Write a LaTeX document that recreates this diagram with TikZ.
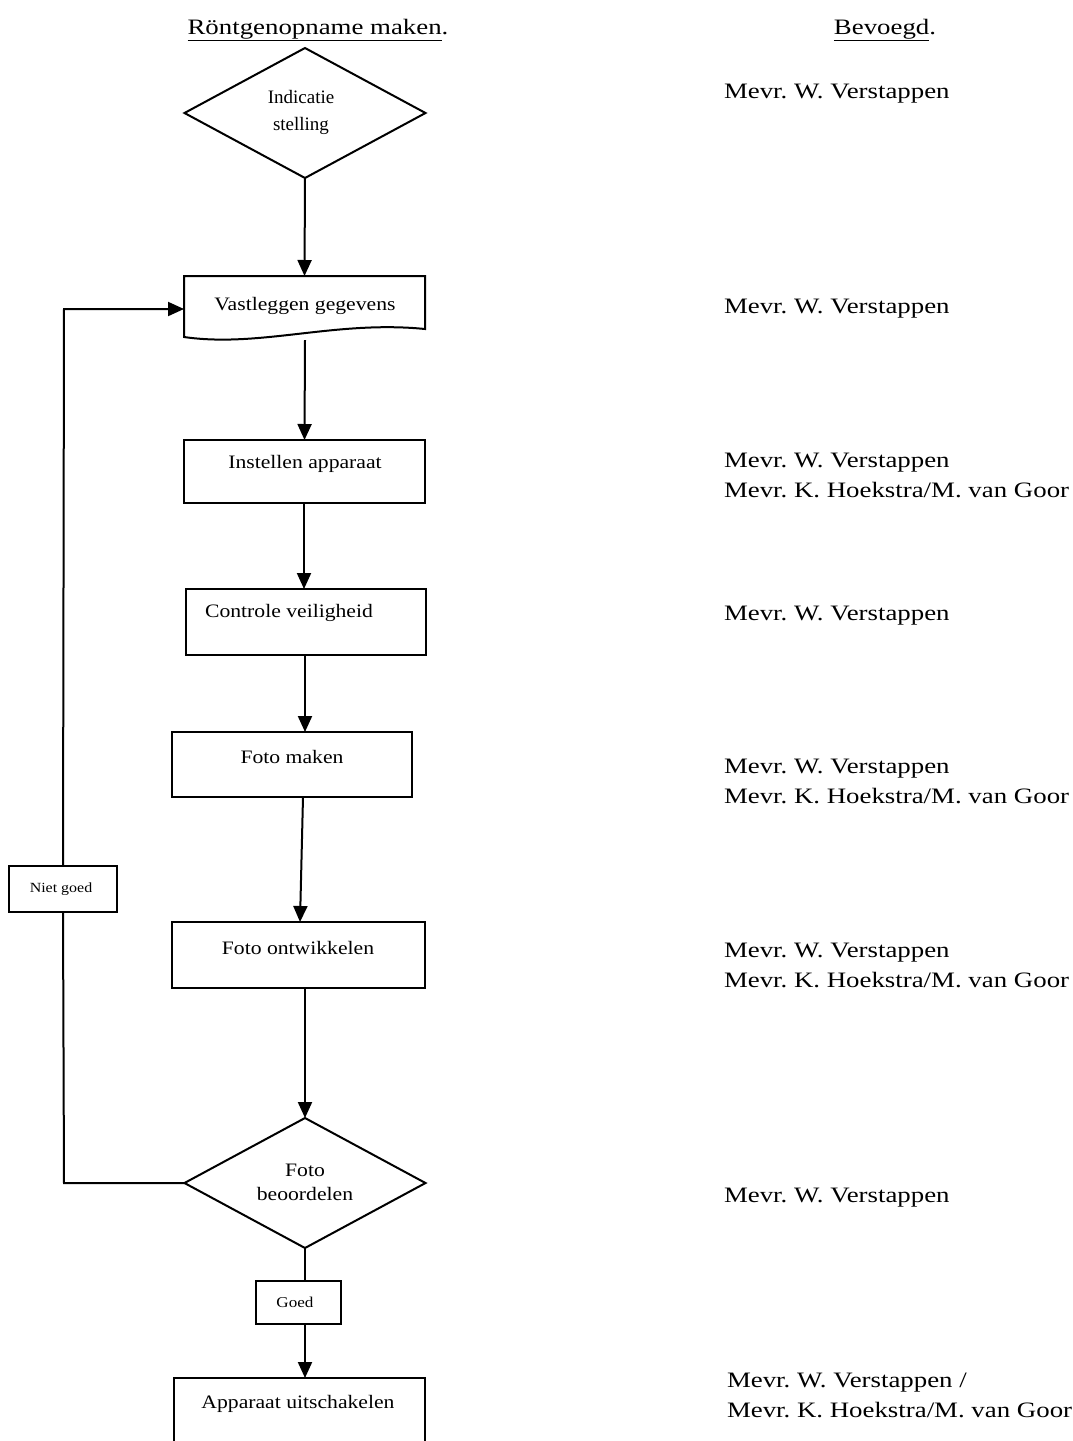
\documentclass[tikz,border=0pt]{standalone}
\usepackage{fontspec}
\setmainfont{Liberation Serif}
\newfontfamily\rfont[FakeStretch=1.22]{Liberation Serif}
\newfontfamily\bfont[FakeStretch=1.14]{Liberation Serif}
\usetikzlibrary{shapes.geometric,arrows.meta}
\begin{document}
\frenchspacing
\begin{tikzpicture}[x=1pt,y=-1pt,
  every node/.style={inner sep=0pt, outer sep=0pt},
  line/.style={line width=2pt},
  arr/.style={line width=2pt,-{Triangle[width=14pt,length=16pt]}},
  box/.style={draw,line width=2pt,anchor=north west},
  dia/.style={draw,line width=2pt,diamond,minimum width=241pt,minimum height=130pt,inner sep=0pt},
  btxt/.style={font=\bfont\fontsize{19}{24}\selectfont,align=center},
  itxt/.style={font=\fontsize{19}{27}\selectfont,align=center},
  stxt/.style={font=\bfont\fontsize{14}{17}\selectfont},
  rtxt/.style={font=\rfont\fontsize{22}{30}\selectfont,anchor=base west,align=left},
  ttl/.style={font=\rfont\fontsize{22}{26}\selectfont}
]
\clip (0,0) rectangle (1073,1441);
\fill[white] (0,0) rectangle (1073,1441);

% titles
\node[ttl] (t1) at (318,30) {\underline{Röntgenopname maken}.};
\node[ttl] (t2) at (885,30) {\underline{Bevoegd}.};

% diamond 1
\node[dia] (d1) at (305,113) {};
\node[itxt] (d1t) at (301,112) {Indicatie\\stelling};

% document shape
\node[minimum width=241pt,minimum height=66pt,anchor=north west] (v) at (184,276) {};
\draw[line] (v.north west) -- (v.north east) -- (425,329)
  .. controls (335,320) and (260,348) .. (184,337) -- cycle;
\node[btxt] (vt) at (305,306) {Vastleggen gegevens};

% boxes
\node[box,minimum width=241pt,minimum height=63pt] (b2) at (184,440) {};
\node[btxt] (b2t) at (305,464) {Instellen apparaat};
\node[box,minimum width=240pt,minimum height=66pt] (b3) at (186,589) {};
\node[btxt] (b3t) at (289,613) {Controle veiligheid};
\node[box,minimum width=240pt,minimum height=65pt] (b4) at (172,732) {};
\node[btxt] (b4t) at (292,757) {Foto maken};
\node[box,minimum width=253pt,minimum height=66pt] (b5) at (172,922) {};
\node[btxt] (b5t) at (298,948) {Foto ontwikkelen};

% diamond 2
\node[dia] (d2) at (305,1183) {};
\node[btxt] (d2t) at (305,1182) {Foto\\beoordelen};

% goed
\node[box,minimum width=85pt,minimum height=43pt] (g) at (256,1281) {};
\node[stxt,font=\bfont\fontsize{15}{17}\selectfont] (gt) at (295,1302) {Goed};

% last box (bottom cut off)
\node[box,minimum width=251pt,minimum height=100pt] (b6) at (174,1378) {};
\node[btxt] (b6t) at (298,1404) {Apparaat uitschakelen};

% niet goed
\node[box,minimum width=108pt,minimum height=46pt] (ng) at (9,866) {};
\node[stxt] (ngt) at (61,889) {Niet goed};

% connectors
\draw[arr] (d1.south) -- (v.north);
\draw[arr] (305,340) -- (b2.north);
\draw[arr] (304,503) -- (304,589);
\draw[arr] (305,655) -- (305,732);
\draw[arr] (303,797) -- (300,922);
\draw[arr] (305,988) -- (d2.north);
\draw[line] (d2.south) -- (d2.south |- g.north);
\draw[arr] (d2.south |- g.south) -- (d2.south |- b6.north);
\draw[line] (d2.west) -- (64,1183) -- (ng.south);
\draw[arr] (ng.north) -- (64,309) -- (v.west);

% right column
\node[rtxt] (r1) at (724,98) {Mevr. W. Verstappen};
\node[rtxt] (r2) at (724,313) {Mevr. W. Verstappen};
\node[rtxt] (r3) at (724,497) {Mevr. W. Verstappen\\Mevr. K. Hoekstra/M. van Goor};
\node[rtxt] (r4) at (724,620) {Mevr. W. Verstappen};
\node[rtxt] (r5) at (724,803) {Mevr. W. Verstappen\\Mevr. K. Hoekstra/M. van Goor};
\node[rtxt] (r6) at (724,987) {Mevr. W. Verstappen\\Mevr. K. Hoekstra/M. van Goor};
\node[rtxt] (r7) at (724,1202) {Mevr. W. Verstappen};
\node[rtxt] (r8) at (727,1417) {Mevr. W. Verstappen /\\Mevr. K. Hoekstra/M. van Goor};
\end{tikzpicture}
\end{document}
